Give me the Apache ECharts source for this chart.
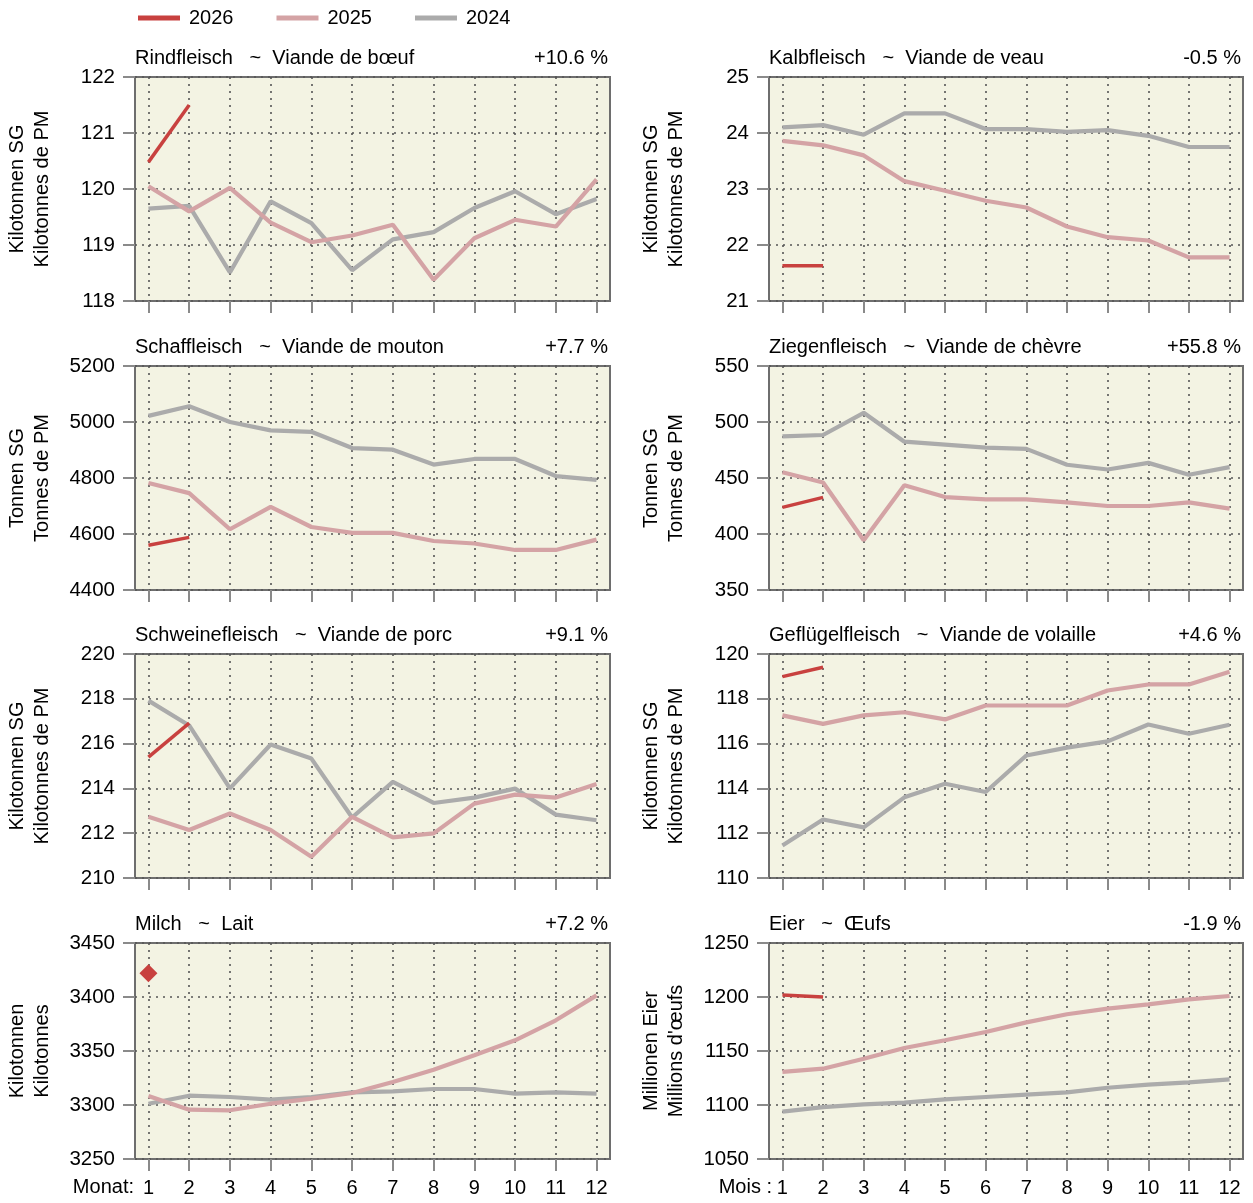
<!DOCTYPE html>
<html><head><meta charset="utf-8">
<script src="https://cdn.jsdelivr.net/npm/echarts@6/dist/echarts.min.js"></script>
<style>html,body{margin:0;padding:0;background:#fff}#c{width:1253px;height:1203px}</style>
</head><body><div id="c"></div>
<script>
// ---------- data ----------
const months = [1,2,3,4,5,6,7,8,9,10,11,12];
const years = ['2026','2025','2024'];

const titles = [
  'Rindfleisch   ~  Viande de bœuf', 'Kalbfleisch   ~  Viande de veau',
  'Schaffleisch   ~  Viande de mouton', 'Ziegenfleisch   ~  Viande de chèvre',
  'Schweinefleisch   ~  Viande de porc', 'Geflügelfleisch   ~  Viande de volaille',
  'Milch   ~  Lait', 'Eier   ~  Œufs'
];
const changes = ['+10.6 %', '-0.5 %', '+7.7 %', '+55.8 %', '+9.1 %', '+4.6 %', '+7.2 %', '-1.9 %'];
const unitNames = [
  'Kilotonnen SG\nKilotonnes de PM', 'Kilotonnen SG\nKilotonnes de PM',
  'Tonnen SG\nTonnes de PM', 'Tonnen SG\nTonnes de PM',
  'Kilotonnen SG\nKilotonnes de PM', 'Kilotonnen SG\nKilotonnes de PM',
  'Kilotonnen\nKilotonnes', 'Millionen Eier\nMillions d\'œufs'
];
const yMins  = [118, 21, 4400, 350, 210, 110, 3250, 1050];
const yMaxs  = [122, 25, 5200, 550, 220, 120, 3450, 1250];
const ySteps = [1, 1, 200, 50, 2, 2, 50, 50];
const monthWords = ['Monat:', 'Mois :'];

const rind2026 = [120.48, 121.5];
const rind2025 = [120.05, 119.6, 120.02, 119.4, 119.05, 119.17, 119.36, 118.38, 119.12, 119.45, 119.33, 120.17];
const rind2024 = [119.65, 119.7, 118.51, 119.78, 119.39, 118.55, 119.1, 119.23, 119.66, 119.96, 119.55, 119.82];

const kalb2026 = [21.63, 21.63];
const kalb2025 = [23.86, 23.78, 23.6, 23.14, 22.97, 22.79, 22.67, 22.33, 22.14, 22.08, 21.78, 21.78];
const kalb2024 = [24.1, 24.14, 23.97, 24.35, 24.35, 24.07, 24.07, 24.02, 24.05, 23.95, 23.75, 23.75];

const schaf2026 = [4560, 4588];
const schaf2025 = [4782, 4746, 4617, 4697, 4625, 4604, 4604, 4575, 4566, 4543, 4543, 4580];
const schaf2024 = [5022, 5056, 5000, 4970, 4965, 4907, 4901, 4848, 4868, 4868, 4807, 4793];

const ziege2026 = [423.8, 432.7];
const ziege2025 = [455.2, 446, 394.4, 443.6, 433, 430.9, 430.9, 428.2, 425, 425, 428.2, 422.6];
const ziege2024 = [487.2, 488.4, 508.2, 482.4, 479.8, 477.1, 476, 461.8, 457.6, 463.5, 452.9, 459.7];

const schwein2026 = [215.4, 216.91];
const schwein2025 = [212.73, 212.14, 212.88, 212.14, 210.95, 212.73, 211.81, 211.99, 213.32, 213.72, 213.59, 214.2];
const schwein2024 = [217.92, 216.81, 214.0, 215.96, 215.33, 212.7, 214.29, 213.35, 213.59, 213.99, 212.83, 212.58];

const gefl2026 = [118.99, 119.41];
const gefl2025 = [117.26, 116.88, 117.26, 117.4, 117.08, 117.7, 117.7, 117.7, 118.37, 118.64, 118.64, 119.21];
const gefl2024 = [111.45, 112.61, 112.26, 113.6, 114.21, 113.84, 115.47, 115.82, 116.1, 116.85, 116.44, 116.84];

const milch2026 = [3422];
const milch2025 = [3308.3, 3295.7, 3295.1, 3301.2, 3305.9, 3311.1, 3321.3, 3332.7, 3346, 3359.9, 3378.4, 3401.5];
const milch2024 = [3301.2, 3308.6, 3307.4, 3305, 3307.4, 3311.7, 3312.7, 3314.8, 3314.8, 3310.5, 3311.7, 3310.5];

const eier2026 = [1201.9, 1200];
const eier2025 = [1130.6, 1133.6, 1142.9, 1152.8, 1159.9, 1167.6, 1176.5, 1184, 1189.2, 1193.2, 1197.8, 1200.9];
const eier2024 = [1093.8, 1098.1, 1100.6, 1102.2, 1105.2, 1107.4, 1109.6, 1111.7, 1116, 1118.8, 1121, 1123.8];

const panelSeries = [
  [rind2026, rind2025, rind2024], [kalb2026, kalb2025, kalb2024],
  [schaf2026, schaf2025, schaf2024], [ziege2026, ziege2025, ziege2024],
  [schwein2026, schwein2025, schwein2024], [gefl2026, gefl2025, gefl2024],
  [milch2026, milch2025, milch2024], [eier2026, eier2025, eier2024]
];

// ---------- style / layout ----------
const FONT = '"Liberation Sans", Arial, sans-serif';
const FS = 20;
const yearColors = ['#C8413F', '#D4A3A5', '#ABABAB'];
const yearWidths = [3.5, 4.2, 4.2];
const colLeft = [135, 769];
const colWidth = [475, 474];
const rowTop = [77, 366, 654, 943];
const rowHeight = [224, 224, 224, 216];
const W = 1253;

const grids = [], xAxes = [], yAxes = [], series = [], titleArr = [], graphics = [];

for (let i = 0; i < 8; i++) {
  const col = i % 2, row = Math.floor(i / 2);
  const left = colLeft[col], top = rowTop[row], width = colWidth[col], height = rowHeight[row];
  const bottomRow = row === 3;
  grids.push({
    left: left, top: top, width: width, height: height,
    show: true, backgroundColor: '#F3F3E3', borderColor: '#6E6E6E', borderWidth: 2,
    containLabel: false
  });
  xAxes.push({
    gridIndex: i, type: 'value', min: 0.67, max: 12.33,
    axisLine: { show: false },
    axisTick: { show: true, customValues: months, length: 12, inside: false, lineStyle: { color: '#8A8A8A', width: 2 } },
    axisLabel: { show: bottomRow, customValues: months, fontSize: FS, color: '#000', fontFamily: FONT, margin: 19 },
    splitLine: { show: true, lineStyle: { type: [2, 5], color: '#555', width: 1.6 } }
  });
  yAxes.push({
    gridIndex: i, type: 'value', min: yMins[i], max: yMaxs[i], interval: ySteps[i],
    axisLine: { show: false },
    axisTick: { show: true, length: 12, inside: false, lineStyle: { color: '#8A8A8A', width: 2 } },
    axisLabel: { fontSize: 20.5, color: '#000', fontFamily: FONT, margin: 20, formatter: function (v) { return String(v); } },
    splitLine: { show: true, lineStyle: { type: [2, 5], color: '#555', width: 1.6 } },
    name: unitNames[i], nameLocation: 'middle', nameGap: 80, nameRotate: 90,
    nameTextStyle: { fontSize: FS, color: '#000', fontFamily: FONT, lineHeight: 25 }
  });
  titleArr.push({
    text: titles[i], left: left, top: top - 29, padding: 0,
    textStyle: { fontSize: FS, fontWeight: 'normal', color: '#000', fontFamily: FONT }
  });
  titleArr.push({
    text: changes[i], right: W - (left + width) + 2, top: top - 29, padding: 0,
    textStyle: { fontSize: FS, fontWeight: 'normal', color: '#000', fontFamily: FONT }
  });
  // draw 2024, 2025, then 2026 on top
  for (let k = 2; k >= 0; k--) {
    const vals = panelSeries[i][k];
    const single = vals.length === 1;
    series.push({
      name: years[k], type: 'line', xAxisIndex: i, yAxisIndex: i,
      data: vals.map((v, j) => [months[j], v]),
      color: yearColors[k],
      symbol: single ? 'diamond' : 'none', symbolSize: 18, showSymbol: single,
      lineStyle: { color: yearColors[k], width: yearWidths[k] },
      itemStyle: { color: yearColors[k] },
      z: 3 - k, silent: true
    });
  }
}
graphics.push({ type: 'text', right: W - 134, top: 1177, style: { text: monthWords[0], fill: '#000', font: FS + 'px ' + FONT } });
graphics.push({ type: 'text', right: W - 772, top: 1177, style: { text: monthWords[1], fill: '#000', font: FS + 'px ' + FONT } });

const chart = echarts.init(document.getElementById('c'));
chart.setOption({
  animation: false,
  backgroundColor: '#fff',
  textStyle: { fontFamily: FONT },
  legend: {
    data: years, left: 138, top: 8, padding: 0, icon: 'rect', itemWidth: 42, itemHeight: 5, itemGap: 43,
    textStyle: { fontSize: FS, color: '#000', fontFamily: FONT, padding: [0, 0, 0, 4] },
    selectedMode: false
  },
  title: titleArr,
  grid: grids, xAxis: xAxes, yAxis: yAxes, series: series,
  graphic: graphics
});
</script>
</body></html>
